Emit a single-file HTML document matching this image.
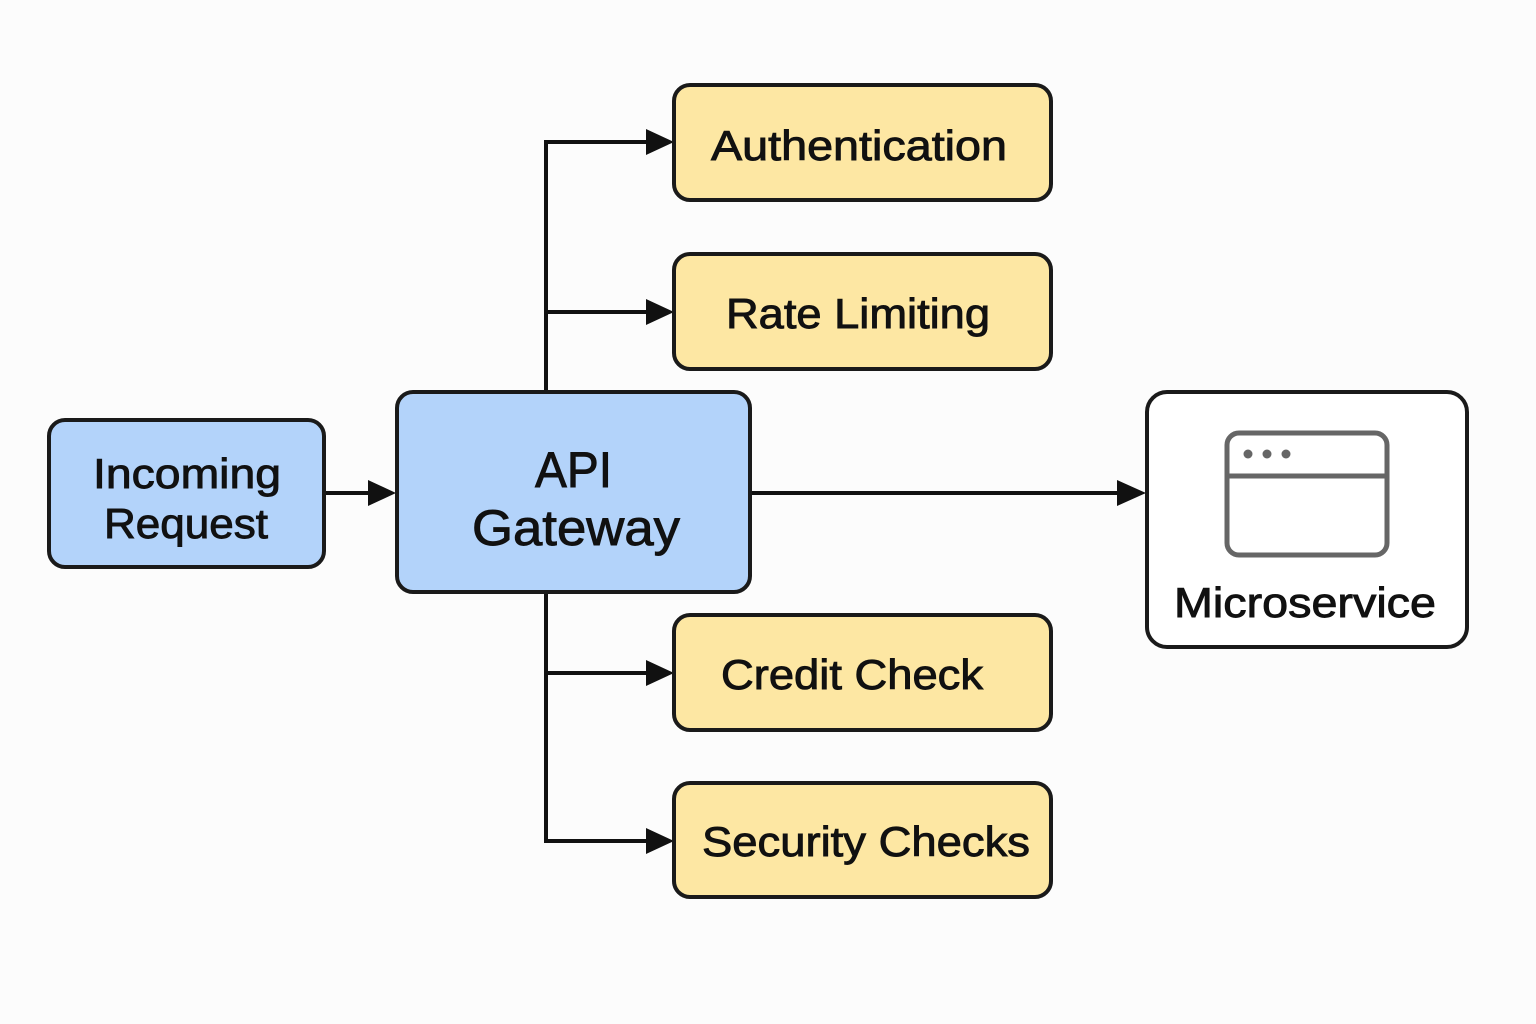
<!DOCTYPE html>
<html><head><meta charset="utf-8"><style>
html,body{margin:0;padding:0;background:#fcfcfc;}
svg{display:block}
text{font-family:"Liberation Sans","DejaVu Sans",sans-serif;fill:#111;stroke:#111;stroke-width:0.9;}
</style></head><body>
<svg width="1536" height="1024" viewBox="0 0 1536 1024" xmlns="http://www.w3.org/2000/svg">
<rect width="1536" height="1024" fill="#fcfcfc"/>
<g stroke="#111" stroke-width="4" fill="none">
<path d="M546 392 V142 H650"/>
<path d="M546 312 H650"/>
<path d="M546 592 V841 H650"/>
<path d="M546 673 H650"/>
<path d="M326 493 H372"/>
<path d="M752 493 H1120"/>
</g>
<g fill="#111">
<path d="M646 129 L674 142 L646 155 z"/>
<path d="M646 299 L674 312 L646 325 z"/>
<path d="M646 660 L674 673 L646 686 z"/>
<path d="M646 828 L674 841 L646 854 z"/>
<path d="M368 480 L396 493 L368 506 z"/>
<path d="M1117 480 L1146 493 L1117 506 z"/>
</g>
<g stroke="#1a1a1a" stroke-width="4">
<rect x="49" y="420" width="275" height="147" rx="16" fill="#b3d3fa"/>
<rect x="397" y="392" width="353" height="200" rx="16" fill="#b3d3fa"/>
<rect x="674" y="85" width="377" height="115" rx="16" fill="#fde7a3"/>
<rect x="674" y="254" width="377" height="115" rx="16" fill="#fde7a3"/>
<rect x="674" y="615" width="377" height="115" rx="16" fill="#fde7a3"/>
<rect x="674" y="783" width="377" height="114" rx="16" fill="#fde7a3"/>
<rect x="1147" y="392" width="320" height="255" rx="20" fill="#fff"/>
</g>
<rect x="1227" y="433" width="160" height="122" rx="12" fill="none" stroke="#666" stroke-width="5"/>
<line x1="1227" y1="476" x2="1387" y2="476" stroke="#666" stroke-width="5"/>
<g fill="#666"><circle cx="1248" cy="454" r="4.5"/><circle cx="1267" cy="454" r="4.5"/><circle cx="1286" cy="454" r="4.5"/></g>
<g font-size="42" lengthAdjust="spacingAndGlyphs">
<text x="93" y="488" textLength="188" lengthAdjust="spacingAndGlyphs">Incoming</text>
<text x="104" y="538" textLength="164" lengthAdjust="spacingAndGlyphs">Request</text>
<text x="535" y="487" font-size="50" textLength="77" lengthAdjust="spacingAndGlyphs">API</text>
<text x="472" y="545" font-size="50" textLength="208" lengthAdjust="spacingAndGlyphs">Gateway</text>
<text x="711" y="160" textLength="296" lengthAdjust="spacingAndGlyphs">Authentication</text>
<text x="726" y="328" textLength="264" lengthAdjust="spacingAndGlyphs">Rate Limiting</text>
<text x="721" y="689" textLength="262" lengthAdjust="spacingAndGlyphs">Credit Check</text>
<text x="702" y="856" textLength="328" lengthAdjust="spacingAndGlyphs">Security Checks</text>
<text x="1174" y="617" textLength="262" lengthAdjust="spacingAndGlyphs">Microservice</text>
</g>
</svg>
</body></html>
